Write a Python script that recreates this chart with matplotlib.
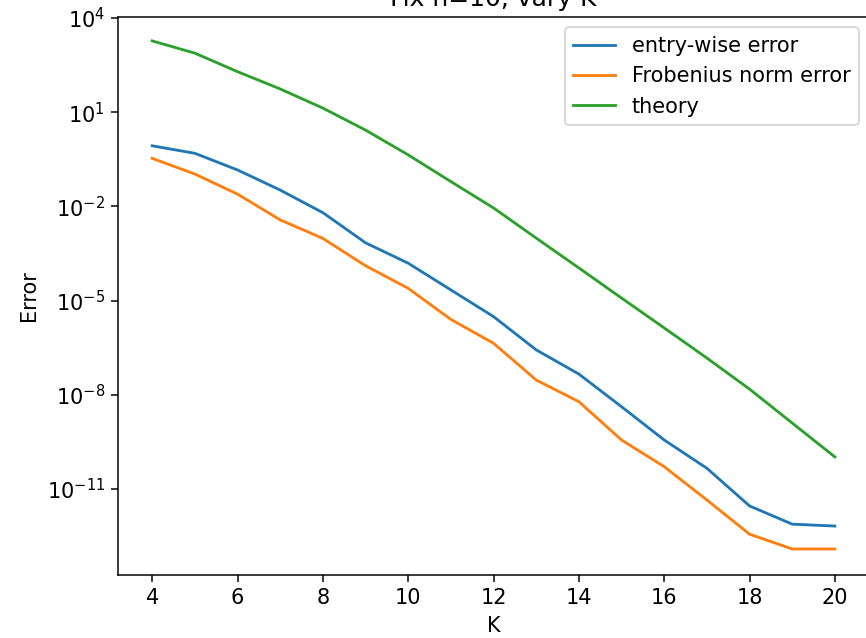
import numpy as np
import matplotlib
matplotlib.use("Agg")
import matplotlib.pyplot as plt

# valeurs (log10 de l'erreur)
K = np.arange(4, 21)
log_entry = [-0.07, -0.31, -0.84, -1.48, -2.20, -3.16, -3.81, -4.66, -5.51,
             -6.57, -7.34, -8.38, -9.44, -10.34, -11.54, -12.12, -12.18]
log_frob = [-0.47, -0.97, -1.61, -2.43, -3.02, -3.89, -4.61, -5.60, -6.36,
            -7.53, -8.22, -9.44, -10.29, -11.35, -12.44, -12.91, -12.91]
log_theory = [3.27, 2.88, 2.29, 1.74, 1.13, 0.43, -0.36, -1.21, -2.05,
              -3.01, -3.96, -4.92, -5.87, -6.83, -7.82, -8.90, -9.98]

entry_err = 10.0 ** np.array(log_entry)
frob_err = 10.0 ** np.array(log_frob)
theory = 10.0 ** np.array(log_theory)

plt.rcParams['font.size'] = 11.1

dpi = 866 / 6.4
fig = plt.figure(figsize=(6.4, 638 / dpi), dpi=dpi)
ax = fig.add_axes([0.1363, 0.0987, 0.8672, 0.8746])

ax.plot(K, entry_err, label="entry-wise error")
ax.plot(K, frob_err, label="Frobenius norm error")
ax.plot(K, theory, label="theory")
ax.set_yscale("log")
ax.set_ylim(10 ** -13.74, 10 ** 4.03)
ax.set_xlim(3.2, 20.8)
ax.set_xticks(range(4, 21, 2))
ax.set_yticks([1e4, 1e1, 1e-2, 1e-5, 1e-8, 1e-11])
ax.set_xlabel("K")
ax.set_ylabel("Error")
ax.set_title("Fix n=10, vary K")
ax.legend(loc="upper right")

fig.savefig("out.png", dpi=dpi)
